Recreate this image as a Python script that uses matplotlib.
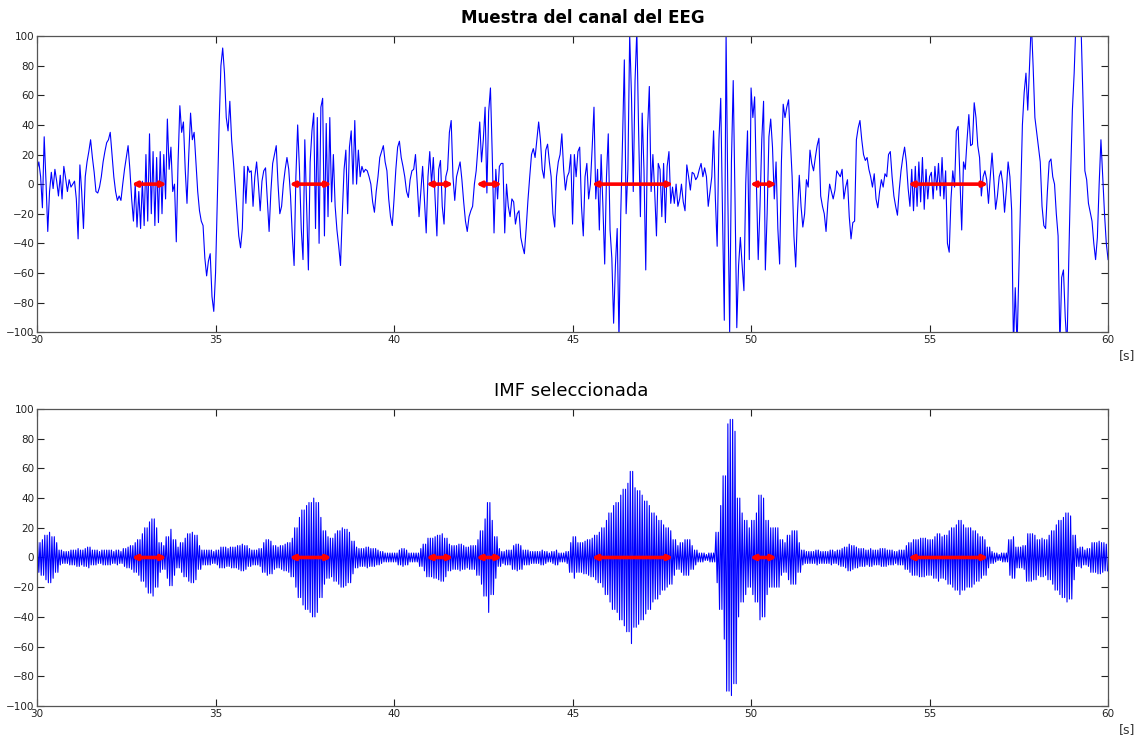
import matplotlib
matplotlib.use("Agg")
import matplotlib.pyplot as plt
import numpy as np

# muestra del canal EEG, un valor cada 0.05 s desde 30 s (una fila por segundo)
eeg_rows = [
    [10, 15, 5, -16, 32, 2, -32, -5, 8, -3, 10, 2, -8, 6, -10, 12, 4, -5, 3, -2],
    [0, 2, -10, -37, 13, -5, -30, 5, 15, 22, 30, 18, 8, -5, -6, -2, 5, 15, 22, 28],
    [30, 35, 20, 5, -5, -11, -8, -11, 0, 10, 18, 26, 10, -10, -25, 0, -29, -5, -30, 2],
    [-28, 20, -25, 34, -20, 22, -28, 18, -26, 22, -20, 20, -10, 44, 10, 25, -5, 0, -39, 15],
    [53, 35, 42, 10, -13, 20, 48, 30, 35, 15, -5, -18, -25, -28, -50, -62, -52, -47, -76, -86],
    [-60, -10, 40, 80, 92, 75, 45, 36, 56, 30, 15, -2, -20, -35, -43, -30, 12, -13, 12, 8],
    [9, -15, 5, 15, 0, -18, 2, 9, 11, -10, -32, -5, 14, 20, 26, 0, -20, -15, 0, 10],
    [18, 10, -8, -35, -55, 5, 40, 10, -30, -51, 30, -15, -58, 15, 36, 48, -30, 45, -40, 52],
    [58, -35, 41, -22, 45, -12, 20, -15, -31, -42, -55, -20, 10, 23, -20, 25, 36, 0, 43, 0],
    [23, 5, 12, 8, 10, 9, 5, 0, -12, -19, -5, 5, 18, 22, 26, 15, 9, -10, -22, -28],
    [-10, 10, 25, 29, 18, 12, 5, -5, -9, 3, 9, 10, 20, 0, -22, -5, 12, -10, -33, 5],
    [22, 0, 18, -10, -35, 10, 16, -15, -27, 5, 10, 35, 43, 5, -11, 5, 10, 15, 3, -12],
    [-25, -32, -22, -18, -15, 0, 9, 25, 42, 15, 30, 52, -6, 49, 65, 20, -33, 10, -10, 12],
    [14, 14, -33, 0, -15, -22, -10, -12, -27, -20, -18, -36, -42, -47, -30, -11, 5, 20, 24, 18],
    [30, 42, 30, 10, 4, 23, 27, 15, 5, -20, -29, 5, 15, 20, 34, 10, -4, 5, 8, 20],
    [-27, 20, 5, 22, 25, -15, -35, 5, 14, -10, 0, 25, 52, -10, 10, -31, 20, -15, -54, 5],
    [34, -31, -50, -94, -55, -30, -105, -20, 30, 84, -20, 10, 101, 60, -5, 70, 104, 36, -22, 48],
    [10, -58, 36, 66, -5, 20, -5, -35, 14, 10, -22, 14, -26, 12, 22, -13, -2, -13, 0, -15],
    [-10, 0, -12, -18, 13, 5, -4, 8, 7, 3, 5, 10, 14, 5, 11, 5, -15, -5, 5, 36],
    [-10, -42, 30, 58, -20, -92, 102, -10, -100, 15, 70, -10, -97, -55, -36, -55, -72, 0, 36, -51],
    [65, 45, 59, 0, -51, -15, 30, 56, -58, -20, 32, 44, 25, -10, 15, -30, -54, 15, 54, 45],
    [52, 57, 30, 5, -35, -56, -20, 6, -15, -29, -20, 3, -2, 23, 14, 9, 18, 26, 31, -8],
    [-15, -20, -32, -13, 0, -5, -10, -4, 9, 7, 5, 10, -10, -2, 3, -22, -37, -26, -25, 30],
    [38, 43, 30, 20, 16, 18, 10, 5, -2, 7, -10, -16, -5, 3, -2, 7, 5, 20, 22, 5],
    [-8, -15, -21, -4, 9, 18, 25, 15, -3, -15, 10, -18, 12, -15, 15, -12, 18, -17, 10, -10],
    [5, 8, -10, 12, -4, 14, -8, 18, -10, 9, -40, -46, -10, 9, -2, 36, 39, 3, -31, 15],
    [10, 30, 47, 26, 27, 55, 45, 26, 18, -8, 5, 9, 3, -13, 5, 21, 3, -17, -8, 5],
    [9, 0, -19, -4, 15, 5, -18, -110, -70, -110, -60, -10, 40, 62, 75, 50, 80, 110, 80, 45],
    [35, 25, 15, -15, -28, -30, -5, 15, 17, 5, 0, -20, -35, -110, -63, -58, -90, -110, -50, 5],
    [50, 75, 110, 130, 125, 100, 55, 9, 3, -13, -19, -25, -40, -51, -36, 0, 30, 5, -20, -40],
    [-51],
]

# envolvente de la IMF (amplitud de pico), un valor cada 0.1 s desde 30 s
imf_env_rows = [
    [10, 12, 15, 17, 14, 10, 5, 4, 4, 5],
    [5, 6, 5, 6, 7, 5, 5, 4, 5, 5],
    [5, 4, 5, 4, 6, 7, 8, 10, 12, 16],
    [20, 24, 26, 20, 10, 8, 14, 19, 12, 7],
    [10, 13, 16, 17, 15, 8, 5, 5, 5, 4],
    [5, 7, 7, 6, 7, 7, 8, 9, 8, 6],
    [5, 5, 6, 10, 12, 11, 8, 7, 8, 9],
    [10, 13, 20, 27, 32, 35, 37, 40, 37, 27],
    [18, 14, 13, 16, 18, 20, 19, 17, 11, 7],
    [6, 6, 7, 6, 6, 5, 4, 3, 3, 3],
    [3, 5, 6, 5, 3, 3, 3, 6, 9, 13],
    [13, 14, 15, 16, 13, 9, 8, 8, 9, 8],
    [7, 8, 8, 12, 18, 26, 37, 25, 14, 6],
    [4, 5, 5, 8, 9, 8, 5, 5, 4, 4],
    [4, 5, 4, 3, 4, 5, 3, 3, 4, 10],
    [14, 10, 10, 11, 12, 13, 15, 17, 20, 25],
    [30, 35, 37, 42, 46, 50, 58, 47, 45, 42],
    [38, 35, 30, 28, 25, 22, 20, 18, 12, 8],
    [10, 12, 12, 8, 5, 3, 3, 2, 3, 3],
    [17, 35, 55, 90, 93, 85, 40, 30, 25, 20],
    [25, 30, 42, 40, 25, 20, 20, 20, 12, 10],
    [15, 18, 18, 10, 5, 4, 4, 4, 5, 4],
    [4, 4, 5, 4, 5, 6, 7, 9, 8, 7],
    [6, 6, 5, 6, 5, 5, 6, 6, 5, 5],
    [4, 5, 5, 8, 10, 12, 12, 13, 13, 12],
    [12, 14, 16, 14, 15, 18, 20, 22, 25, 22],
    [20, 20, 18, 16, 14, 12, 7, 4, 3, 2],
    [3, 3, 12, 14, 7, 7, 8, 16, 16, 15],
    [12, 13, 12, 15, 18, 22, 25, 27, 30, 28],
    [15, 6, 7, 5, 6, 10, 10, 11, 10, 9],
]

# husos marcados (inicio, fin) en segundos
spindle_start = [32.65, 37.07, 40.90, 42.30, 45.54, 49.97, 54.40]
spindle_end = [33.63, 38.25, 41.66, 43.02, 47.82, 50.72, 56.64]

x_ticks = [30, 35, 40, 45, 50, 55, 60]
y_ticks = [-100, -80, -60, -40, -20, 0, 20, 40, 60, 80, 100]

eeg = np.concatenate([np.array(r, dtype=float) for r in eeg_rows])
t_eeg = 30 + 0.05 * np.arange(len(eeg))

env = np.concatenate([np.array(r, dtype=float) for r in imf_env_rows])
# tres semiciclos por cada ventana de 0.1 s, alternando signo
half = np.repeat(env, 3)
imf = half * np.where(np.arange(len(half)) % 2 == 0, 1, -1)
t_imf = 30 + (np.arange(len(half)) + 0.5) / 30.0

fig = plt.figure(figsize=(11.4, 7.38), dpi=100)
ax1 = fig.add_axes([0.0325, 0.550, 0.9395, 0.401])
ax2 = fig.add_axes([0.0325, 0.0434, 0.9395, 0.4024])

for ax, t, y in [(ax1, t_eeg, eeg), (ax2, t_imf, imf)]:
    ax.plot(t, y, color=(0, 0, 1), lw=0.8)
    for s, e in zip(spindle_start, spindle_end):
        ax.annotate("", xy=(e, 0), xytext=(s, 0),
                    arrowprops=dict(arrowstyle="<|-|>", color="red", lw=2.6,
                                    mutation_scale=7, shrinkA=0, shrinkB=0))
    ax.set_xlim(30, 60)
    ax.set_ylim(-100, 100)
    ax.set_xticks(x_ticks)
    ax.set_yticks(y_ticks)
    ax.tick_params(direction="in", top=True, right=True, length=5, width=0.8,
                   labelsize=7.5, pad=2, colors="#222222")
    for sp in ax.spines.values():
        sp.set_color("#555555")
        sp.set_linewidth(0.9)

fig.text(0.511, 0.975, "Muestra del canal del EEG", ha="center", va="center",
         fontsize=12, fontweight="bold")
fig.text(0.501, 0.470, "IMF seleccionada", ha="center", va="center",
         fontsize=13)
fig.text(0.989, 0.518, "[s]", ha="center", va="center", fontsize=9, color="#333333")
fig.text(0.989, 0.012, "[s]", ha="center", va="center", fontsize=9, color="#333333")

fig.savefig("out.png", dpi=100)
